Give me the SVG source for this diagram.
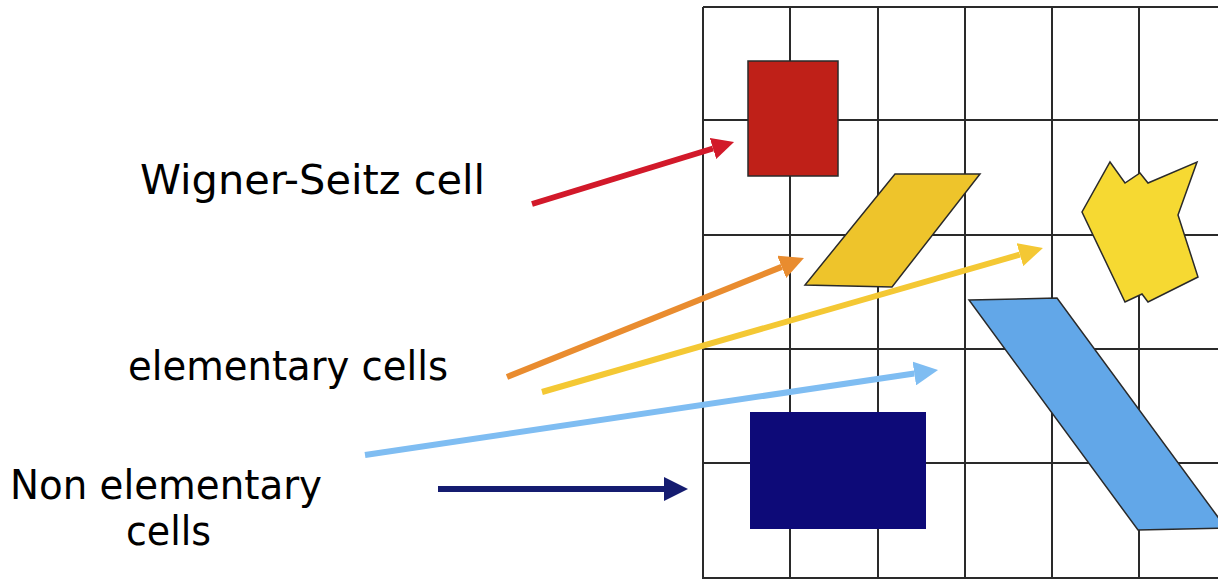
<svg xmlns="http://www.w3.org/2000/svg" width="1218" height="579" viewBox="0 0 1218 579">
<style>
.grid line{stroke:#2a2a2a;stroke-width:2}
.lbl{font-family:"Comic Sans MS","DejaVu Sans",sans-serif;font-size:40px;fill:#000}
.cell{stroke:#2a2a2a;stroke-width:1.5}
.conn line{stroke-width:6;fill:none}
</style>
<defs>
<marker id="hRed" viewBox="0 0 10 10" refX="0" refY="5" markerUnits="userSpaceOnUse" markerWidth="22" markerHeight="24" orient="auto"><path d="M0,0 L10,5 L0,10 z" fill="#d2192a"/></marker>
<marker id="hOrange" viewBox="0 0 10 10" refX="0" refY="5" markerUnits="userSpaceOnUse" markerWidth="24" markerHeight="24" orient="auto"><path d="M0,0 L10,5 L0,10 z" fill="#e98c2f"/></marker>
<marker id="hYellow" viewBox="0 0 10 10" refX="0" refY="5" markerUnits="userSpaceOnUse" markerWidth="24" markerHeight="24" orient="auto"><path d="M0,0 L10,5 L0,10 z" fill="#f4c834"/></marker>
<marker id="hBlue" viewBox="0 0 10 10" refX="0" refY="5" markerUnits="userSpaceOnUse" markerWidth="24" markerHeight="24" orient="auto"><path d="M0,0 L10,5 L0,10 z" fill="#7fbdf2"/></marker>
<marker id="hNavy" viewBox="0 0 10 10" refX="0" refY="5" markerUnits="userSpaceOnUse" markerWidth="26" markerHeight="24" orient="auto"><path d="M0,0 L10,5 L0,10 z" fill="#151c70"/></marker>
</defs>
<rect width="1218" height="579" fill="#ffffff"/>
<g id="lattice" class="grid">
<line x1="703" y1="7" x2="703" y2="579"/>
<line x1="790" y1="7" x2="790" y2="579"/>
<line x1="878" y1="7" x2="878" y2="579"/>
<line x1="965" y1="7" x2="965" y2="579"/>
<line x1="1052" y1="7" x2="1052" y2="579"/>
<line x1="1139" y1="7" x2="1139" y2="579"/>
<line x1="703" y1="7" x2="1218" y2="7"/>
<line x1="703" y1="120" x2="1218" y2="120"/>
<line x1="703" y1="235" x2="1218" y2="235"/>
<line x1="703" y1="349" x2="1218" y2="349"/>
<line x1="703" y1="463" x2="1218" y2="463"/>
<line x1="703" y1="578" x2="1218" y2="578"/>
</g>
<g id="wigner-seitz-cell"><rect class="cell" x="748" y="61" width="90" height="115" fill="#bf2018"/></g>
<g id="elementary-cell-1"><polygon class="cell" points="895,174 980,174 892,287 805,285" fill="#eec42b"/></g>
<g id="elementary-cell-2"><polygon class="cell" points="1110,162 1125,183 1140,173 1148,183 1197,162 1178,215 1198,277 1148,302 1142,294 1125,302 1082,212" fill="#f6d932"/></g>
<g id="elementary-cell-3"><polygon class="cell" points="969,300 1057,298 1226,528 1138,530" fill="#62a7e8"/></g>
<g id="non-elementary-cell"><rect x="750" y="412" width="176" height="117" fill="#0d0a78"/></g>
<g id="label-ws"><text class="lbl" x="140" y="194" textLength="345" lengthAdjust="spacingAndGlyphs">Wigner-Seitz cell</text></g>
<g id="label-elem"><text class="lbl" x="128" y="380" textLength="320" lengthAdjust="spacingAndGlyphs">elementary cells</text></g>
<g id="label-nonelem"><text class="lbl" x="10" y="499" textLength="312" lengthAdjust="spacingAndGlyphs">Non elementary</text><text class="lbl" x="126" y="545" textLength="85" lengthAdjust="spacingAndGlyphs">cells</text></g>
<g id="connectors" class="conn">
<line x1="532" y1="204" x2="713" y2="148.5" stroke="#d2192a" marker-end="url(#hRed)"/>
<line x1="507" y1="377" x2="781.7" y2="266.9" stroke="#e98c2f" marker-end="url(#hOrange)"/>
<line x1="542" y1="392" x2="1019.9" y2="254.6" stroke="#f4c834" marker-end="url(#hYellow)"/>
<line x1="365" y1="455" x2="914.3" y2="373.5" stroke="#7fbdf2" marker-end="url(#hBlue)"/>
<line x1="438" y1="489" x2="664" y2="489" stroke="#151c70" marker-end="url(#hNavy)"/>
</g>
</svg>
